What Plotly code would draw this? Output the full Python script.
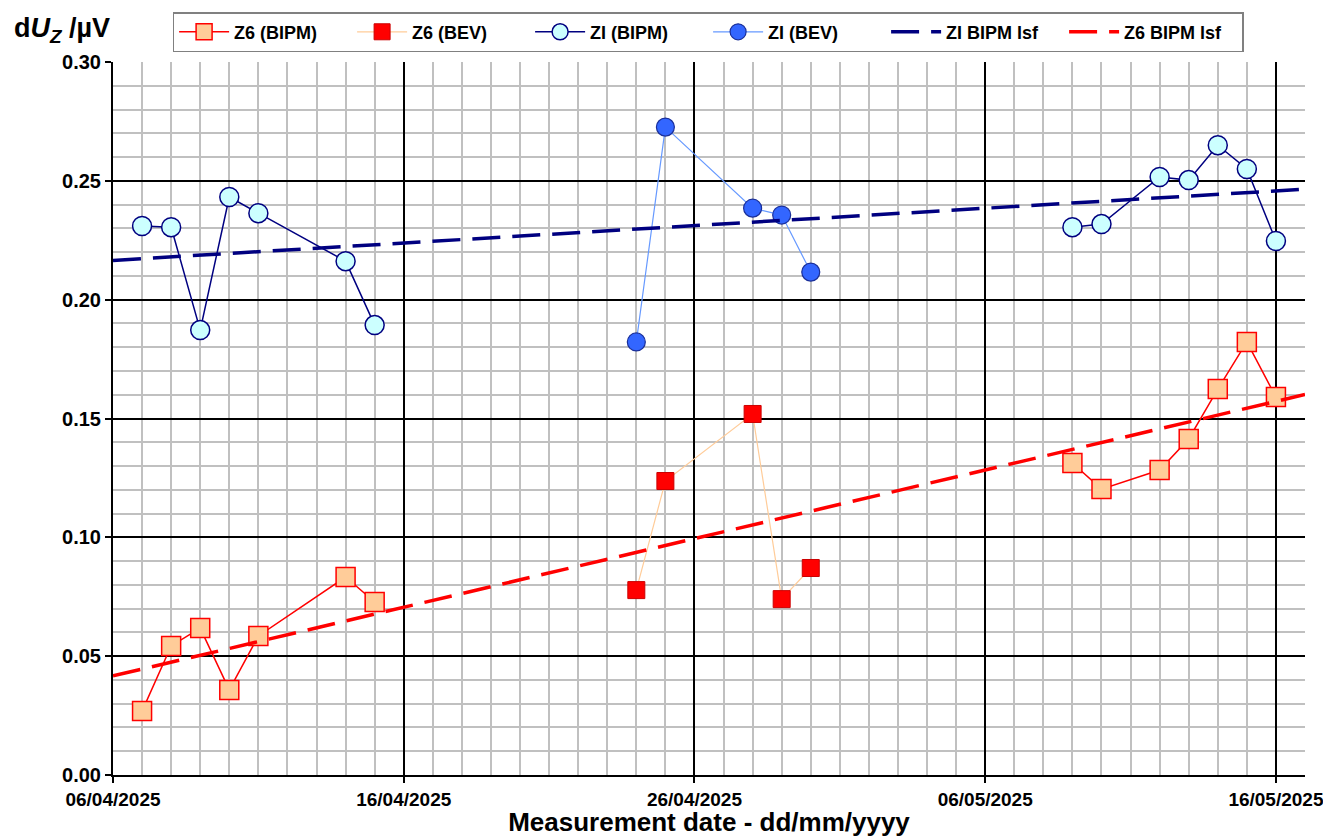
import numpy as np
import pandas as pd
import plotly.graph_objects as go

# ---- data ----
bipm_dates = ["2025-04-07", "2025-04-08", "2025-04-09", "2025-04-10", "2025-04-11",
              "2025-04-14", "2025-04-15", None,
              "2025-05-09", "2025-05-10", "2025-05-12", "2025-05-13", "2025-05-14",
              "2025-05-15", "2025-05-16"]
z6_bipm = [0.0269, 0.0543, 0.0618, 0.0358, 0.0585, 0.0833, 0.0728, None,
           0.1313, 0.1203, 0.1283, 0.1414, 0.1624, 0.1822, 0.1590]
zi_bipm = [0.2310, 0.2305, 0.1872, 0.2432, 0.2364, 0.2162, 0.1893, None,
           0.2305, 0.2318, 0.2516, 0.2503, 0.2650, 0.2550, 0.2247]

bev_dates = ["2025-04-24", "2025-04-25", "2025-04-28", "2025-04-29", "2025-04-30"]
z6_bev = [0.0778, 0.1237, 0.1519, 0.0740, 0.0871]
zi_bev = [0.1822, 0.2726, 0.2385, 0.2356, 0.2116]

x_start = "2025-04-06"
x_end = "2025-05-17"

# ---- least-squares fits (BIPM data) ----
def lsf(dates, vals):
    d = [pd.Timestamp(a) for a, v in zip(dates, vals) if a is not None and v is not None]
    v = [v for a, v in zip(dates, vals) if a is not None and v is not None]
    t0 = pd.Timestamp(x_start)
    days = np.array([(a - t0).total_seconds() / 86400 for a in d])
    p = np.polyfit(days, np.array(v), 1)
    ends = [pd.Timestamp(x_start), pd.Timestamp(x_end)]
    ed = np.array([(a - t0).total_seconds() / 86400 for a in ends])
    return [e.strftime("%Y-%m-%d") for e in ends], list(np.polyval(p, ed))

zi_fx, zi_fy = lsf(bipm_dates, zi_bipm)
z6_fx, z6_fy = lsf(bipm_dates, z6_bipm)

FONT = "Arial, Liberation Sans, sans-serif"

fig = go.Figure()
fig.add_trace(go.Scatter(
    x=bipm_dates, y=z6_bipm, name="Z6 (BIPM)", mode="lines+markers",
    line=dict(color="#ff0000", width=1.5),
    marker=dict(symbol="square", size=19, color="#ffcc99",
                line=dict(color="#ff0000", width=1.5))))
fig.add_trace(go.Scatter(
    x=bev_dates, y=z6_bev, name="Z6 (BEV)", mode="lines+markers",
    line=dict(color="#ffcc99", width=1.2),
    marker=dict(symbol="square", size=17, color="#ff0000",
                line=dict(color="#cc0000", width=1))))
fig.add_trace(go.Scatter(
    x=bipm_dates, y=zi_bipm, name="ZI (BIPM)", mode="lines+markers",
    line=dict(color="#000080", width=1.5),
    marker=dict(symbol="circle", size=19, color="#ccffff",
                line=dict(color="#000080", width=1.5))))
fig.add_trace(go.Scatter(
    x=bev_dates, y=zi_bev, name="ZI (BEV)", mode="lines+markers",
    line=dict(color="#6699ff", width=1.2),
    marker=dict(symbol="circle", size=18, color="#3366ff",
                line=dict(color="#1a2f99", width=1.2))))
fig.add_trace(go.Scatter(
    x=zi_fx, y=zi_fy, name="ZI BIPM lsf", mode="lines",
    line=dict(color="#000080", width=3.5, dash="28px,12px")))
fig.add_trace(go.Scatter(
    x=z6_fx, y=z6_fy, name="Z6 BIPM lsf", mode="lines",
    line=dict(color="#ff0000", width=3.5, dash="28px,12px")))

fig.update_xaxes(
    type="date", range=[x_start, x_end], tick0=x_start, dtick=10 * 86400000,
    tickformat="%d/%m/%Y", showgrid=True, gridcolor="black", gridwidth=1.5,
    minor=dict(dtick=86400000, showgrid=True, gridcolor="#c0c0c0", gridwidth=1.5),
    ticks="outside", ticklen=6, tickcolor="black", tickwidth=1.5,
    showline=True, linecolor="black", linewidth=2, zeroline=False,
    automargin=False, ticklabeloverflow="allow",
    tickfont=dict(family=FONT, size=19, color="black", weight="bold"),
    title=dict(text="Measurement date - dd/mm/yyyy", standoff=11,
               font=dict(family=FONT, size=26, color="black", weight="bold")))
fig.update_yaxes(
    range=[0, 0.30], tick0=0, dtick=0.05, tickformat=".2f",
    showgrid=True, gridcolor="black", gridwidth=1.5,
    minor=dict(dtick=0.01, showgrid=True, gridcolor="#c0c0c0", gridwidth=1.5),
    ticks="outside", ticklen=6, tickcolor="black", tickwidth=1.5,
    showline=True, linecolor="black", linewidth=2, zeroline=False,
    automargin=False,
    tickfont=dict(family=FONT, size=20, color="black", weight="bold"))

fig.add_annotation(
    text="d<i>U</i><sub><i>Z</i></sub> /µV", xref="paper", yref="paper",
    x=-0.0847, y=1.045, xanchor="left", yanchor="middle", showarrow=False,
    font=dict(family=FONT, size=27, color="black", weight="bold"))

fig.update_layout(
    width=1323, height=829,
    margin=dict(l=105, r=26, t=54, b=62, autoexpand=False),
    plot_bgcolor="white", paper_bgcolor="white",
    font=dict(family=FONT, color="black"),
    showlegend=True,
    legend=dict(orientation="h", x=0.05, y=1.07, xanchor="left", yanchor="top",
                bordercolor="#808080", borderwidth=1.5, bgcolor="white",
                entrywidth=113, itemwidth=50,
                font=dict(family=FONT, size=18, color="black", weight="bold")))

fig.write_html("out.html")
